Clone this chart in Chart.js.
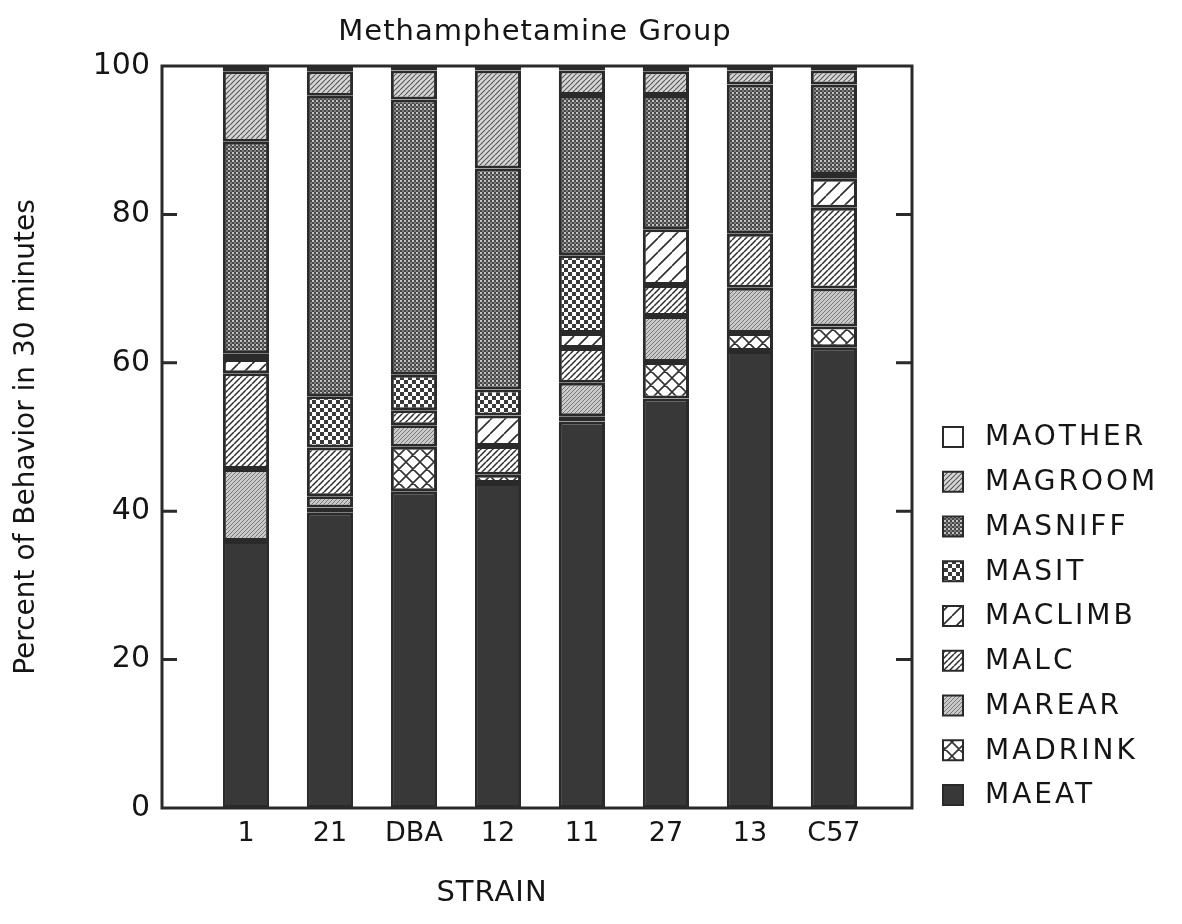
<!DOCTYPE html>
<html lang="en">
<head>
    <meta charset="UTF-8">
    <title>Methamphetamine Group</title>
    <script src="https://cdn.jsdelivr.net/npm/chart.js"></script>
    <style>
        body {
            margin: 0;
            background: #fff;
        }
        #chart {
            display: block;
        }
    </style>
</head>
<body>
    <canvas id="chart" width="1182" height="924"></canvas>

    <script>
        // strains along the x axis
        const strains = ['1', '21', 'DBA', '12', '11', '27', '13', 'C57'];

        // percent of behaviour per strain, bottom of the stack first
        const maeat    = [36.0, 39.8, 42.7, 43.8, 52.1, 55.2, 61.6, 62.1];
        const madrink  = [0.0, 0.7, 6.0, 1.1, 0.7, 4.9, 2.4, 2.8];
        const marear   = [9.7, 1.5, 2.9, 0.0, 4.5, 6.2, 6.1, 5.1];
        const malc     = [12.9, 6.6, 2.0, 3.9, 4.7, 4.2, 7.3, 10.9];
        const maclimb  = [1.9, 0.0, 0.0, 4.1, 2.0, 7.5, 0.0, 3.9];
        const masit    = [0.8, 6.9, 4.8, 3.5, 10.5, 0.0, 0.0, 0.5];
        const masniff  = [28.5, 40.5, 37.1, 29.8, 21.6, 18.1, 20.1, 12.2];
        const magroom  = [9.5, 3.3, 3.9, 13.2, 3.3, 3.2, 1.9, 1.9];
        const maother  = [0.7, 0.7, 0.6, 0.6, 0.6, 0.7, 0.6, 0.6];

        const yTicks = [0, 20, 40, 60, 80, 100];

        const FONT = '"DejaVu Sans", "Liberation Sans", sans-serif';
        const INK = '#151515';

        // small tiled fills that imitate the printed hatching
        function makePattern(size, bg, draw) {
            const c = document.createElement('canvas');
            c.width = size;
            c.height = size;
            const g = c.getContext('2d');
            g.fillStyle = bg;
            g.fillRect(0, 0, size, size);
            if (draw) draw(g, size);
            return g.createPattern(c, 'repeat');
        }

        function diag(g, s, color, w, both) {
            g.strokeStyle = color;
            g.lineWidth = w;
            g.beginPath();
            for (let k = -1; k <= 1; k++) {
                g.moveTo(k * s, s);
                g.lineTo(k * s + s, 0);
                if (both) {
                    g.moveTo(k * s, 0);
                    g.lineTo(k * s + s, s);
                }
            }
            g.stroke();
        }

        const fills = {
            maeat: '#383838',
            madrink: makePattern(14, '#ffffff', (g, s) => diag(g, s, '#333', 1.6, true)),
            marear: makePattern(4, '#c9c9c9', (g, s) => diag(g, s, '#7a7a7a', 1)),
            malc: makePattern(6, '#ffffff', (g, s) => diag(g, s, '#2e2e2e', 1.5)),
            maclimb: makePattern(14, '#ffffff', (g, s) => diag(g, s, '#2e2e2e', 1.6)),
            masit: makePattern(8, '#ffffff', (g) => {
                g.fillStyle = '#3a3a3a';
                g.fillRect(0, 0, 4, 4);
                g.fillRect(4, 4, 4, 4);
            }),
            masniff: makePattern(4, '#464646', (g) => {
                g.fillStyle = '#c4c4c4';
                g.fillRect(0, 0, 2, 2);
                g.fillStyle = '#7e7e7e';
                g.fillRect(2, 2, 2, 2);
            }),
            magroom: makePattern(5, '#d6d6d6', (g, s) => diag(g, s, '#5a5a5a', 1.2)),
            maother: '#ffffff'
        };

        const series = [
            ['MAEAT', maeat, fills.maeat],
            ['MADRINK', madrink, fills.madrink],
            ['MAREAR', marear, fills.marear],
            ['MALC', malc, fills.malc],
            ['MACLIMB', maclimb, fills.maclimb],
            ['MASIT', masit, fills.masit],
            ['MASNIFF', masniff, fills.masniff],
            ['MAGROOM', magroom, fills.magroom],
            ['MAOTHER', maother, fills.maother]
        ];

        const datasets = series.map(([label, values, fill]) => ({
            label: label,
            data: values.map((v, i) => ({ x: i + 1, y: v })),
            backgroundColor: fill,
            borderColor: '#2a2a2a',
            borderWidth: 3,
            borderSkipped: false,
            barPercentage: 0.55,
            categoryPercentage: 1
        }));

        // frame, inner tick marks, titles and the legend
        const decorations = {
            id: 'decorations',
            afterDraw(chart) {
                const ctx = chart.ctx;
                const area = chart.chartArea;
                const y = chart.scales.y;
                ctx.save();

                ctx.strokeStyle = '#2a2a2a';
                ctx.lineWidth = 3;
                ctx.strokeRect(area.left, area.top, area.right - area.left, area.bottom - area.top);

                ctx.beginPath();
                yTicks.slice(1, -1).forEach(t => {
                    const py = y.getPixelForValue(t);
                    ctx.moveTo(area.left, py);
                    ctx.lineTo(area.left + 15, py);
                    ctx.moveTo(area.right, py);
                    ctx.lineTo(area.right - 16, py);
                });
                ctx.stroke();

                ctx.fillStyle = INK;
                ctx.textAlign = 'center';
                ctx.textBaseline = 'middle';
                ctx.font = '29px ' + FONT;
                ctx.letterSpacing = '1px';
                ctx.fillText('Methamphetamine Group', 535, 32);
                ctx.fillText('STRAIN', 492, 893);

                // legend, top item first
                ctx.textAlign = 'left';
                ctx.font = '28px ' + FONT;
                ctx.letterSpacing = '3px';
                const items = chart.data.datasets.slice().reverse();
                items.forEach((ds, i) => {
                    const cy = 437 + i * 44.75;
                    ctx.fillStyle = ds.backgroundColor;
                    ctx.fillRect(943, cy - 10, 20, 20);
                    ctx.strokeStyle = '#2a2a2a';
                    ctx.lineWidth = 2;
                    ctx.strokeRect(943, cy - 10, 20, 20);
                    ctx.fillStyle = INK;
                    ctx.fillText(ds.label, 985, cy + 1);
                });

                ctx.restore();
            }
        };

        new Chart(document.getElementById('chart'), {
            type: 'bar',
            data: { datasets: datasets },
            plugins: [decorations],
            options: {
                responsive: false,
                animation: false,
                layout: {
                    padding: { top: 66, right: 270, left: 0, bottom: 0 }
                },
                plugins: {
                    legend: { display: false },
                    tooltip: { enabled: false }
                },
                scales: {
                    x: {
                        type: 'linear',
                        stacked: true,
                        offset: false,
                        min: 0,
                        max: 8.93,
                        afterBuildTicks: s => {
                            s.ticks = strains.map((_, i) => ({ value: i + 1 }));
                        },
                        afterFit: s => { s.height = 116; },
                        grid: { display: false, drawTicks: false },
                        border: { display: false },
                        ticks: {
                            padding: 10,
                            autoSkip: false,
                            maxRotation: 0,
                            color: INK,
                            font: { family: FONT, size: 27 },
                            callback: v => strains[v - 1] || ''
                        }
                    },
                    y: {
                        stacked: true,
                        min: 0,
                        max: 100,
                        afterBuildTicks: s => {
                            s.ticks = yTicks.map(v => ({ value: v }));
                        },
                        afterFit: s => { s.width = 162; },
                        grid: { display: false, drawTicks: false },
                        border: { display: false },
                        ticks: {
                            padding: 12,
                            color: INK,
                            font: { family: FONT, size: 30 }
                        },
                        title: {
                            display: true,
                            text: 'Percent of Behavior in 30 minutes',
                            color: INK,
                            font: { family: FONT, size: 28 },
                            padding: { top: 10, bottom: 0 }
                        }
                    }
                }
            }
        });
    </script>
</body>
</html>
